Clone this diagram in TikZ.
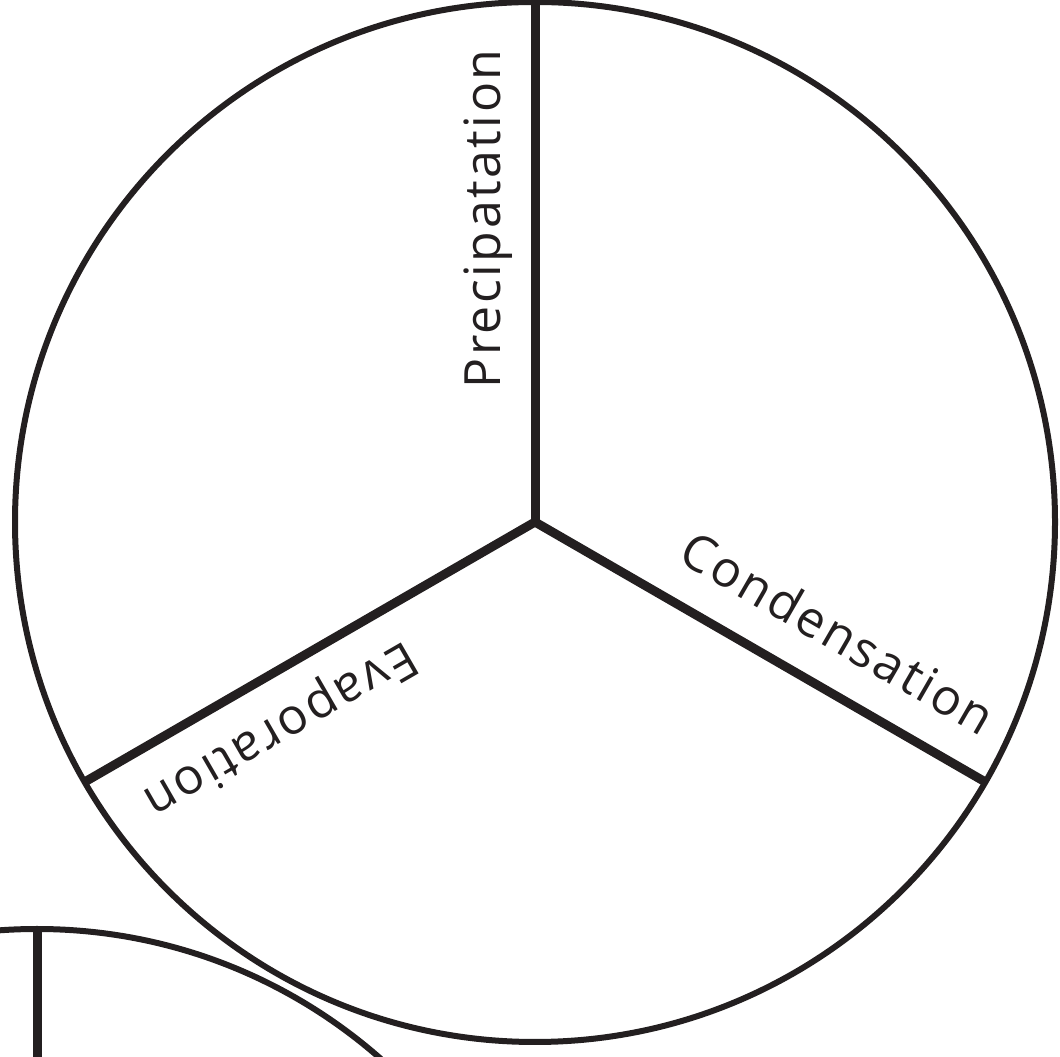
\documentclass[tikz,border=0pt]{standalone}
\usepackage{fontspec}
\setmainfont[LetterSpace=5]{Open Sans}
\usetikzlibrary{calc}
\definecolor{ink}{HTML}{231F20}
\begin{document}
\begin{tikzpicture}[x=1pt,y=1pt,
  rim/.style={draw=ink,line width=6pt},
  spoke/.style={draw=ink,line width=9pt},
  lbl/.style={text=ink,inner sep=0pt,anchor=base,font=\fontsize{50}{50}\selectfont}]
\useasboundingbox (0,0) rectangle (1060,1057);
\begin{scope}
\clip (0,0) rectangle (1060,1057);
% main circle
\coordinate (c) at (535,535);
\draw[rim] (c) circle[radius=520];
\coordinate (top) at ($(c)+(90:520)$);
\coordinate (bl) at ($(c)+(210:520)$);
\coordinate (br) at ($(c)+(330:520)$);
\draw[spoke] (c) -- (top);
\draw[spoke] (c) -- (bl);
\draw[spoke] (c) -- (br);
% second circle, partly visible
\coordinate (c2) at (37,-392);
\draw[rim] (c2) circle[radius=520];
\coordinate (top2) at (37,128);
\draw[spoke] (top2) -- (c2);
\end{scope}
\node[lbl,rotate=90] (prec) at (500,838) {Precipatation};
\node[lbl,rotate=-30] (cond) at (829,408) {Condensation};
\node[lbl,rotate=210] (evap) at (273,340) {Evaporation};
\end{tikzpicture}
\end{document}
